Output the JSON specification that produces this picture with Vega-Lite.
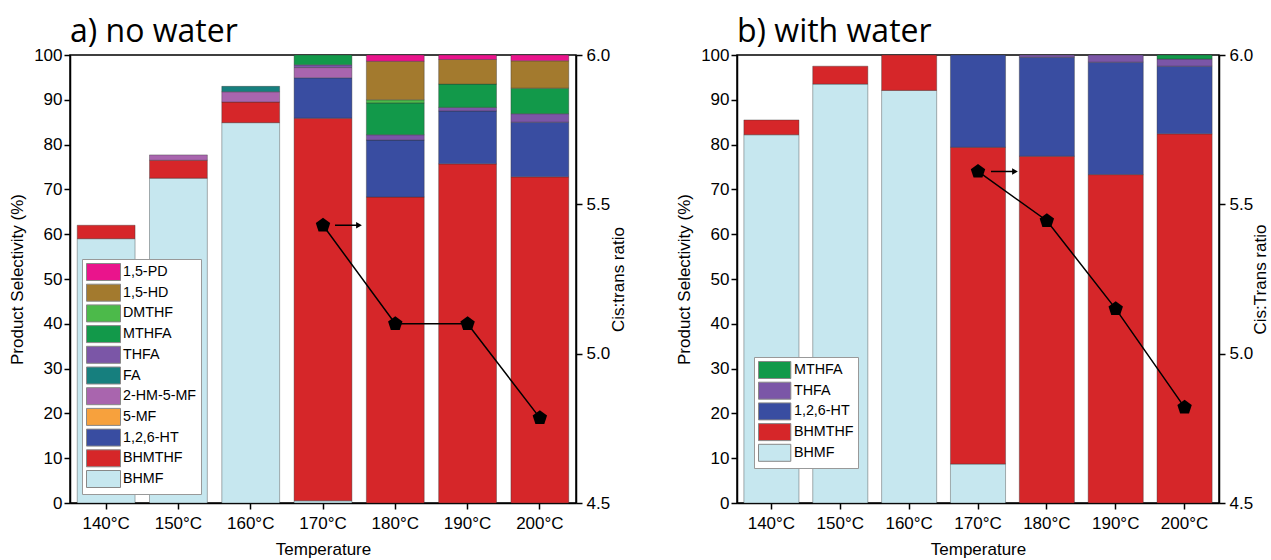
{
  "$schema": "https://vega.github.io/schema/vega-lite/v6.json",
  "padding": {"left": 7, "top": 15, "right": 0, "bottom": 0},
  "background": "white",
  "config": {
    "view": {"stroke": "black", "strokeWidth": 1.5},
    "axis": {"domainColor": "black", "domainWidth": 1.5, "tickColor": "black", "tickWidth": 1.5, "tickSize": 6, "labelFont": "Liberation Sans", "labelFontSize": 17, "labelColor": "black", "titleFont": "Liberation Sans", "titleFontSize": 17, "titleFontWeight": "normal", "titleColor": "black", "grid": false},
    "title": {"font": "Open Sans", "fontSize": 32, "fontWeight": "normal", "color": "black", "anchor": "start", "frame": "group", "offset": -3}
  },
  "datasets": {
    "sel_a": [
      {"T": "140°C", "c": "BHMF", "k": 1, "v": 59.0},
      {"T": "140°C", "c": "BHMTHF", "k": 2, "v": 3.0},
      {"T": "150°C", "c": "BHMF", "k": 1, "v": 72.5},
      {"T": "150°C", "c": "BHMTHF", "k": 2, "v": 4.0},
      {"T": "150°C", "c": "2-HM-5-MF", "k": 5, "v": 1.2},
      {"T": "160°C", "c": "BHMF", "k": 1, "v": 84.9},
      {"T": "160°C", "c": "BHMTHF", "k": 2, "v": 4.6},
      {"T": "160°C", "c": "2-HM-5-MF", "k": 5, "v": 2.3},
      {"T": "160°C", "c": "FA", "k": 6, "v": 1.2},
      {"T": "170°C", "c": "BHMF", "k": 1, "v": 0.5},
      {"T": "170°C", "c": "BHMTHF", "k": 2, "v": 85.4},
      {"T": "170°C", "c": "1,2,6-HT", "k": 3, "v": 9.0},
      {"T": "170°C", "c": "2-HM-5-MF", "k": 5, "v": 2.3},
      {"T": "170°C", "c": "THFA", "k": 7, "v": 0.6},
      {"T": "170°C", "c": "MTHFA", "k": 8, "v": 2.2},
      {"T": "180°C", "c": "BHMTHF", "k": 2, "v": 68.3},
      {"T": "180°C", "c": "1,2,6-HT", "k": 3, "v": 12.7},
      {"T": "180°C", "c": "THFA", "k": 7, "v": 1.2},
      {"T": "180°C", "c": "MTHFA", "k": 8, "v": 7.1},
      {"T": "180°C", "c": "DMTHF", "k": 9, "v": 0.7},
      {"T": "180°C", "c": "1,5-HD", "k": 10, "v": 8.6},
      {"T": "180°C", "c": "1,5-PD", "k": 11, "v": 1.4},
      {"T": "190°C", "c": "BHMTHF", "k": 2, "v": 75.7},
      {"T": "190°C", "c": "1,2,6-HT", "k": 3, "v": 11.8},
      {"T": "190°C", "c": "THFA", "k": 7, "v": 0.8},
      {"T": "190°C", "c": "MTHFA", "k": 8, "v": 5.2},
      {"T": "190°C", "c": "1,5-HD", "k": 10, "v": 5.5},
      {"T": "190°C", "c": "1,5-PD", "k": 11, "v": 1.0},
      {"T": "200°C", "c": "BHMTHF", "k": 2, "v": 72.8},
      {"T": "200°C", "c": "1,2,6-HT", "k": 3, "v": 12.2},
      {"T": "200°C", "c": "THFA", "k": 7, "v": 1.9},
      {"T": "200°C", "c": "MTHFA", "k": 8, "v": 5.7},
      {"T": "200°C", "c": "1,5-HD", "k": 10, "v": 6.1},
      {"T": "200°C", "c": "1,5-PD", "k": 11, "v": 1.3}
    ],
    "sel_b": [
      {"T": "140°C", "c": "BHMF", "k": 1, "v": 82.2},
      {"T": "140°C", "c": "BHMTHF", "k": 2, "v": 3.3},
      {"T": "150°C", "c": "BHMF", "k": 1, "v": 93.5},
      {"T": "150°C", "c": "BHMTHF", "k": 2, "v": 4.0},
      {"T": "160°C", "c": "BHMF", "k": 1, "v": 92.1},
      {"T": "160°C", "c": "BHMTHF", "k": 2, "v": 7.9},
      {"T": "170°C", "c": "BHMF", "k": 1, "v": 8.7},
      {"T": "170°C", "c": "BHMTHF", "k": 2, "v": 70.7},
      {"T": "170°C", "c": "1,2,6-HT", "k": 3, "v": 20.6},
      {"T": "180°C", "c": "BHMTHF", "k": 2, "v": 77.4},
      {"T": "180°C", "c": "1,2,6-HT", "k": 3, "v": 22.1},
      {"T": "180°C", "c": "THFA", "k": 7, "v": 0.5},
      {"T": "190°C", "c": "BHMTHF", "k": 2, "v": 73.3},
      {"T": "190°C", "c": "1,2,6-HT", "k": 3, "v": 25.1},
      {"T": "190°C", "c": "THFA", "k": 7, "v": 1.6},
      {"T": "200°C", "c": "BHMTHF", "k": 2, "v": 82.4},
      {"T": "200°C", "c": "1,2,6-HT", "k": 3, "v": 15.1},
      {"T": "200°C", "c": "THFA", "k": 7, "v": 1.6},
      {"T": "200°C", "c": "MTHFA", "k": 8, "v": 0.9}
    ],
    "ratio_a": [
      {"T": "170°C", "r": 5.43},
      {"T": "180°C", "r": 5.10},
      {"T": "190°C", "r": 5.10},
      {"T": "200°C", "r": 4.785}
    ],
    "ratio_b": [
      {"T": "170°C", "r": 5.61},
      {"T": "180°C", "r": 5.445},
      {"T": "190°C", "r": 5.15},
      {"T": "200°C", "r": 4.82}
    ],
    "arrow_a": [{"T": "170°C", "r": 5.43}],
    "arrow_b": [{"T": "170°C", "r": 5.61}]
  },
  "resolve": {"scale": {"color": "independent"}, "legend": {"color": "independent"}},
  "spacing": 46,
  "hconcat": [
    {
      "width": 506,
      "height": 448,
      "title": {"text": "a) no water"},
      "resolve": {"scale": {"y": "independent"}},
      "layer": [
        {
          "data": {"name": "sel_a"},
          "mark": {"type": "bar", "stroke": "#333", "strokeWidth": 0.7, "strokeOpacity": 0.55},
          "encoding": {
            "x": {"field": "T", "type": "nominal", "sort": ["140°C", "150°C", "160°C", "170°C", "180°C", "190°C", "200°C"], "scale": {"paddingInner": 0.2, "paddingOuter": 0.1}, "axis": {"title": "Temperature", "labelAngle": 0, "labelPadding": 6, "titlePadding": 10}},
            "y": {"field": "v", "type": "quantitative", "stack": "zero", "scale": {"domain": [0, 100], "nice": false}, "axis": {"title": "Product Selectivity (%)", "values": [0, 10, 20, 30, 40, 50, 60, 70, 80, 90, 100], "labelPadding": 2, "titlePadding": 7}},
            "color": {"field": "c", "type": "nominal",
              "scale": {"domain": ["1,5-PD", "1,5-HD", "DMTHF", "MTHFA", "THFA", "FA", "2-HM-5-MF", "5-MF", "1,2,6-HT", "BHMTHF", "BHMF"],
                        "range": ["#ea148c", "#a37a2e", "#4cba4a", "#12994a", "#7b56a7", "#167f7e", "#a965ae", "#f7a13d", "#394da1", "#d62629", "#c6e7ef"]},
              "legend": {"orient": "none", "legendX": 12, "legendY": 204, "title": null, "symbolType": "M-1,-1H3V1H-1Z", "symbolSize": 289, "symbolStrokeColor": "#888", "symbolStrokeWidth": 1, "symbolOpacity": 1, "labelFont": "Liberation Sans", "labelFontSize": 14.3, "labelColor": "black", "labelOffset": 19, "fillColor": "white", "strokeColor": "#999", "padding": 4, "rowPadding": -1.3}},
            "order": {"field": "k", "type": "quantitative"}
          }
        },
        {
          "data": {"name": "ratio_a"},
          "layer": [
            {
              "mark": {"type": "line", "color": "black", "strokeWidth": 1.5},
              "encoding": {
                "x": {"field": "T", "type": "nominal", "sort": ["140°C", "150°C", "160°C", "170°C", "180°C", "190°C", "200°C"]},
                "y": {"field": "r", "type": "quantitative", "scale": {"domain": [4.5, 6.0], "nice": false}, "axis": {"orient": "right", "title": "Cis:trans ratio", "values": [4.5, 5.0, 5.5, 6.0], "format": ".1f", "titleAngle": 270, "labelPadding": 4, "titlePadding": 18}}
              }
            },
            {
              "mark": {"type": "point", "shape": "M0,-1L0.951,-0.309L0.588,0.809L-0.588,0.809L-0.951,-0.309Z", "filled": true, "color": "black", "opacity": 1, "size": 230},
              "encoding": {
                "x": {"field": "T", "type": "nominal", "sort": ["140°C", "150°C", "160°C", "170°C", "180°C", "190°C", "200°C"]},
                "y": {"field": "r", "type": "quantitative"}
              }
            },
            {
              "data": {"name": "arrow_a"},
              "mark": {"type": "rule", "color": "black", "strokeWidth": 1.5, "xOffset": 12, "x2Offset": 34},
              "encoding": {
                "x": {"field": "T", "type": "nominal", "sort": ["140°C", "150°C", "160°C", "170°C", "180°C", "190°C", "200°C"]},
                "x2": {"field": "T"},
                "y": {"field": "r", "type": "quantitative"}
              }
            },
            {
              "data": {"name": "arrow_a"},
              "mark": {"type": "point", "shape": "triangle-right", "filled": true, "color": "black", "opacity": 1, "size": 45, "xOffset": 36},
              "encoding": {
                "x": {"field": "T", "type": "nominal", "sort": ["140°C", "150°C", "160°C", "170°C", "180°C", "190°C", "200°C"]},
                "y": {"field": "r", "type": "quantitative"}
              }
            }
          ]
        }
      ]
    },
    {
      "width": 482,
      "height": 448,
      "title": {"text": "b) with water"},
      "resolve": {"scale": {"y": "independent"}},
      "layer": [
        {
          "data": {"name": "sel_b"},
          "mark": {"type": "bar", "stroke": "#333", "strokeWidth": 0.7, "strokeOpacity": 0.55},
          "encoding": {
            "x": {"field": "T", "type": "nominal", "sort": ["140°C", "150°C", "160°C", "170°C", "180°C", "190°C", "200°C"], "scale": {"paddingInner": 0.2, "paddingOuter": 0.1}, "axis": {"title": "Temperature", "labelAngle": 0, "labelPadding": 6, "titlePadding": 10}},
            "y": {"field": "v", "type": "quantitative", "stack": "zero", "scale": {"domain": [0, 100], "nice": false}, "axis": {"title": "Product Selectivity (%)", "values": [0, 10, 20, 30, 40, 50, 60, 70, 80, 90, 100], "labelPadding": 2, "titlePadding": 7}},
            "color": {"field": "c", "type": "nominal",
              "scale": {"domain": ["MTHFA", "THFA", "1,2,6-HT", "BHMTHF", "BHMF"],
                        "range": ["#12994a", "#7b56a7", "#394da1", "#d62629", "#c6e7ef"]},
              "legend": {"orient": "none", "legendX": 17, "legendY": 302, "title": null, "symbolType": "M-1,-1H2.8V1H-1Z", "symbolSize": 289, "symbolStrokeColor": "#888", "symbolStrokeWidth": 1, "symbolOpacity": 1, "labelFont": "Liberation Sans", "labelFontSize": 14.3, "labelColor": "black", "labelOffset": 18, "fillColor": "white", "strokeColor": "#999", "padding": 4, "rowPadding": -1.3}},
            "order": {"field": "k", "type": "quantitative"}
          }
        },
        {
          "data": {"name": "ratio_b"},
          "layer": [
            {
              "mark": {"type": "line", "color": "black", "strokeWidth": 1.5},
              "encoding": {
                "x": {"field": "T", "type": "nominal", "sort": ["140°C", "150°C", "160°C", "170°C", "180°C", "190°C", "200°C"]},
                "y": {"field": "r", "type": "quantitative", "scale": {"domain": [4.5, 6.0], "nice": false}, "axis": {"orient": "right", "title": "Cis:Trans ratio", "values": [4.5, 5.0, 5.5, 6.0], "format": ".1f", "titleAngle": 270, "labelPadding": 4, "titlePadding": 17}}
              }
            },
            {
              "mark": {"type": "point", "shape": "M0,-1L0.951,-0.309L0.588,0.809L-0.588,0.809L-0.951,-0.309Z", "filled": true, "color": "black", "opacity": 1, "size": 230},
              "encoding": {
                "x": {"field": "T", "type": "nominal", "sort": ["140°C", "150°C", "160°C", "170°C", "180°C", "190°C", "200°C"]},
                "y": {"field": "r", "type": "quantitative"}
              }
            },
            {
              "data": {"name": "arrow_b"},
              "mark": {"type": "rule", "color": "black", "strokeWidth": 1.5, "xOffset": 13, "x2Offset": 35},
              "encoding": {
                "x": {"field": "T", "type": "nominal", "sort": ["140°C", "150°C", "160°C", "170°C", "180°C", "190°C", "200°C"]},
                "x2": {"field": "T"},
                "y": {"field": "r", "type": "quantitative"}
              }
            },
            {
              "data": {"name": "arrow_b"},
              "mark": {"type": "point", "shape": "triangle-right", "filled": true, "color": "black", "opacity": 1, "size": 45, "xOffset": 37},
              "encoding": {
                "x": {"field": "T", "type": "nominal", "sort": ["140°C", "150°C", "160°C", "170°C", "180°C", "190°C", "200°C"]},
                "y": {"field": "r", "type": "quantitative"}
              }
            }
          ]
        }
      ]
    }
  ]
}
